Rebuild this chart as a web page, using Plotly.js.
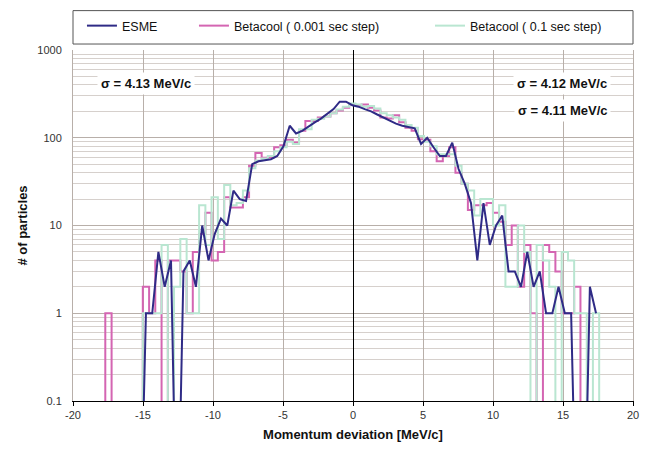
<!DOCTYPE html>
<html>
<head>
<meta charset="utf-8">
<script src="https://cdn.plot.ly/plotly-3.0.1.min.js"></script>
<style>
  html, body { margin: 0; padding: 0; background: #fff; }
  #chart { width: 652px; height: 449px; }
</style>
</head>
<body>
<div id="chart"></div>
<script>
// Bin centres of the momentum histogram [MeV/c]
const binCenters = [
  -17.47, -17.02, -16.58, -16.13, -15.68, -15.24, -14.79, -14.34, -13.90, -13.45,
  -13.00, -12.56, -12.11, -11.66, -11.22, -10.77, -10.32, -9.88, -9.43, -8.98,
  -8.54, -8.09, -7.64, -7.20, -6.75, -6.30, -5.86, -5.41, -4.97, -4.52,
  -4.07, -3.63, -3.18, -2.73, -2.29, -1.84, -1.39, -0.95, -0.50, -0.05,
  0.39, 0.84, 1.29, 1.73, 2.18, 2.63, 3.07, 3.52, 3.97, 4.41,
  4.86, 5.30, 5.75, 6.20, 6.64, 7.09, 7.54, 7.98, 8.43, 8.88,
  9.32, 9.77, 10.22, 10.66, 11.11, 11.56, 12.00, 12.45, 12.90, 13.34,
  13.79, 14.24, 14.68, 15.13, 15.58, 16.02, 16.47, 16.92, 17.36
];

// ESME (# of particles per bin)
const esme = [
  0, 0, 0, 0, 0, 0, 1, 1, 5, 2,
  4, 0, 3, 4, 2, 10, 4, 8, 12, 10,
  25, 20, 19, 50, 54, 55, 57, 62, 80, 137,
  112, 120, 135, 150, 165, 185, 212, 258, 258, 235,
  226, 212, 200, 184, 170, 155, 145, 137, 133, 128,
  85, 100, 78, 62, 62, 88, 44, 30, 18, 4,
  18, 6, 10, 13, 3, 3, 2, 5, 2, 3,
  1, 1, 2, 1, 1, 0, 0, 2, 1
];

// Betacool, 0.001 sec step
const betacoolFine = [
  1, 0, 0, 0, 0, 0, 2, 1, 4, 0,
  4, 4, 3, 1, 5, 8, 14, 4, 5, 21,
  16, 16, 21, 48, 67, 59, 60, 78, 82, 95,
  88, 120, 155, 155, 170, 175, 190, 205, 220, 240,
  235, 240, 220, 204, 170, 166, 180, 150, 130, 120,
  96, 95, 70, 54, 62, 78, 40, 30, 15, 17,
  17, 18, 14, 11, 6, 10, 2, 6, 1, 0,
  6, 5, 3, 1, 1, 2, 0, 0, 0
];

// Betacool, 0.1 sec step
const betacoolCoarse = [
  0, 0, 0, 0, 0, 0, 1, 1, 1, 6,
  0, 2, 7, 1, 1, 17, 6, 21, 7, 29,
  17, 18, 25, 45, 55, 58, 62, 70, 78, 90,
  85, 125, 125, 160, 165, 175, 190, 210, 225, 245,
  240, 225, 230, 215, 190, 180, 170, 160, 140, 130,
  105, 90, 80, 65, 65, 65, 48, 30, 25, 13,
  20, 20, 10, 17, 2, 2, 10, 5, 0, 6,
  4, 2, 0, 5, 4, 1, 1, 0, 1
];

const seriesNames = ['ESME', 'Betacool ( 0.001 sec step)', 'Betacool ( 0.1 sec step)'];
const sigmaLabels = ['σ = 4.13 MeV/c', 'σ = 4.12 MeV/c', 'σ = 4.11 MeV/c'];
const xTickVals = [-20, -15, -10, -5, 0, 5, 10, 15, 20];
const xTickText = ['-20', '-15', '-10', '-5', '0', '5', '10', '15', '20'];
const yTickVals = [0.1, 1, 10, 100, 1000];
const yTickText = ['0.1', '1', '10', '100', '1000'];

// zero counts cannot be shown on a log axis: send them far below the visible range
const FLOOR = 1e-3;
const toLog = v => (v > 0 ? v : FLOOR);

function stepTrace(values, name, color, legendId) {
  const n = binCenters.length;
  const half = (binCenters[n - 1] - binCenters[0]) / (n - 1) / 2;
  const xs = [binCenters[0] - 3 * half];
  const ys = [FLOOR];
  for (let i = 0; i < n; i++) { xs.push(binCenters[i] - half); ys.push(toLog(values[i])); }
  xs.push(binCenters[n - 1] + half); ys.push(FLOOR);
  return {
    type: 'scatter', mode: 'lines', name: name, x: xs, y: ys,
    line: { shape: 'hv', color: color, width: 2 },
    legend: legendId, hoverinfo: 'skip'
  };
}

const traces = [
  stepTrace(betacoolFine, seriesNames[1], '#d465b2', 'legend2'),
  stepTrace(betacoolCoarse, seriesNames[2], '#b9e6d1', 'legend3'),
  {
    type: 'scatter', mode: 'lines', name: seriesNames[0],
    x: binCenters, y: esme.map(toLog),
    line: { color: '#2f2b86', width: 2 },
    legend: 'legend', hoverinfo: 'skip'
  }
];

const FONT = 'Arial, "Liberation Sans", sans-serif';
const plotTop = 49, plotBottom = 401, plotLeft = 73, plotRight = 633;
const H = plotBottom - plotTop, W = plotRight - plotLeft;
const py = y => (plotBottom - y) / H;
const px = x => (x - plotLeft) / W;

const legendCommon = {
  orientation: 'h', yanchor: 'middle', xanchor: 'left',
  bgcolor: 'rgba(0,0,0,0)', borderwidth: 0,
  font: { family: FONT, size: 12.5, color: '#111' }
};

const annoCommon = {
  xref: 'paper', yref: 'paper', showarrow: false,
  xanchor: 'center', yanchor: 'middle',
  bgcolor: '#ffffff', borderpad: 3,
  font: { family: FONT, size: 13, color: '#111', weight: 'bold' }
};

const layout = {
  width: 652, height: 449,
  margin: { l: plotLeft, r: 652 - plotRight, t: plotTop, b: 449 - plotBottom },
  paper_bgcolor: '#ffffff', plot_bgcolor: '#ffffff',
  font: { family: FONT, size: 11, color: '#333' },
  showlegend: true,
  xaxis: {
    range: [-20, 20], tickmode: 'array', tickvals: xTickVals, ticktext: xTickText,
    showgrid: true, gridcolor: '#b8afa9', gridwidth: 1,
    zeroline: true, zerolinecolor: '#000', zerolinewidth: 1,
    showline: true, linecolor: '#000', linewidth: 1,
    ticks: 'outside', ticklen: 4, tickcolor: '#000',
    tickfont: { family: FONT, size: 11, color: '#333' },
    title: { text: 'Momentum deviation [MeV/c]', standoff: 9,
             font: { family: FONT, size: 13, color: '#111', weight: 'bold' } },
    automargin: false, fixedrange: true
  },
  yaxis: {
    type: 'log', range: [-1, 3], tickmode: 'array',
    tickvals: yTickVals, ticktext: yTickText,
    showgrid: true, gridcolor: '#b8afa9', gridwidth: 1,
    minor: { dtick: 'D1', showgrid: true, gridcolor: '#d6d0cc', gridwidth: 1, ticks: '' },
    zeroline: false, showline: true, linecolor: '#b8afa9', linewidth: 1, mirror: true,
    ticks: '', ticklabelstandoff: 8,
    tickfont: { family: FONT, size: 11, color: '#333' },
    title: { text: '# of particles', standoff: 6,
             font: { family: FONT, size: 13, color: '#111', weight: 'bold' } },
    automargin: false, fixedrange: true
  },
  legend: Object.assign({ x: 0.016, y: py(26) }, legendCommon),
  legend2: Object.assign({ x: 0.216, y: py(26) }, legendCommon),
  legend3: Object.assign({ x: 0.6375, y: py(26) }, legendCommon),
  shapes: [
    { type: 'rect', xref: 'paper', yref: 'paper', x0: 0, x1: 1, y0: py(43), y1: py(9.5),
      line: { color: '#555', width: 1 }, fillcolor: 'rgba(0,0,0,0)', layer: 'above' }
  ],
  annotations: [
    Object.assign({ text: sigmaLabels[0], x: px(146), y: py(83) }, annoCommon),
    Object.assign({ text: sigmaLabels[1], x: px(562), y: py(83) }, annoCommon),
    Object.assign({ text: sigmaLabels[2], x: px(562), y: py(110) }, annoCommon)
  ]
};

Plotly.newPlot('chart', traces, layout, { staticPlot: true, displayModeBar: false });
</script>
</body>
</html>
